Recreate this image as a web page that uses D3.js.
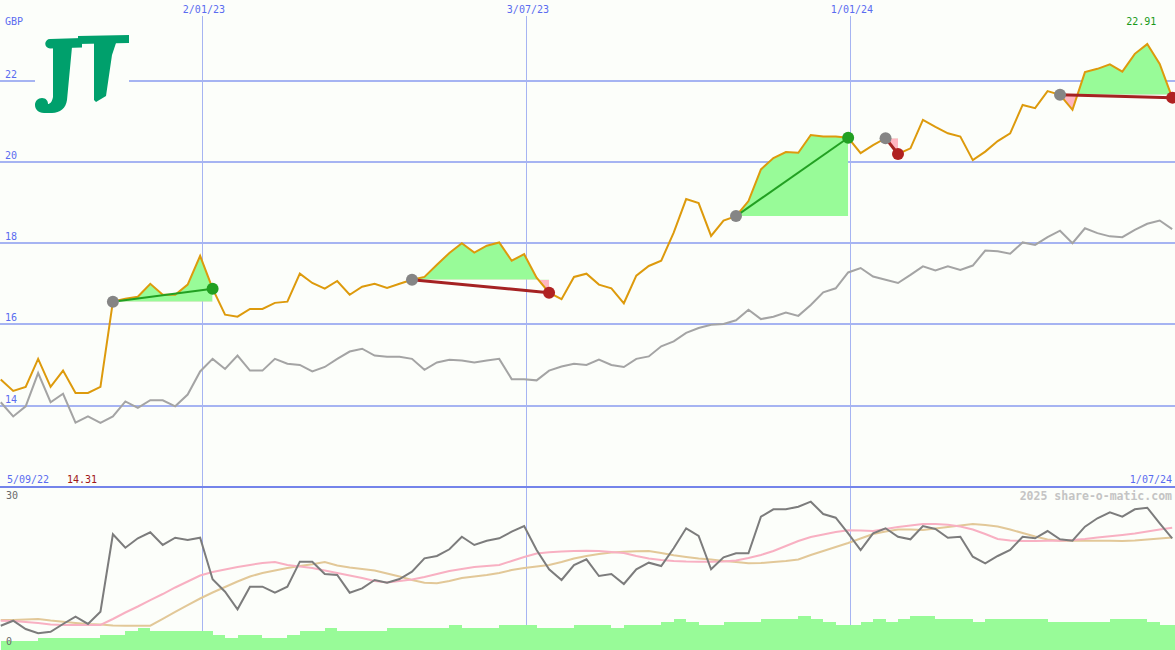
<!DOCTYPE html>
<html><head><meta charset="utf-8">
<script src="https://cdn.jsdelivr.net/npm/d3@7"></script>
<style>body{margin:0;background:#fcfefa}svg{display:block}</style>
</head><body>
<script>
// ---------- data ----------
const startDate = new Date(2022, 8, 11);          // first weekly observation
const weekCount = 95;
const dates = d3.range(weekCount).map(i => d3.timeDay.offset(startDate, 7 * i));

const price = [14.64,14.36,14.46,15.15,14.46,14.86,14.31,14.31,14.46,16.56,
  16.63,16.68,17.00,16.73,16.73,16.98,17.69,16.88,16.24,16.19,
  16.38,16.38,16.53,16.56,17.25,17.02,16.88,17.07,16.73,16.93,
  17.00,16.90,17.00,17.10,17.17,17.47,17.76,18.00,17.77,17.94,
  18.02,17.57,17.73,17.15,16.78,16.62,17.17,17.25,16.98,16.89,
  16.52,17.20,17.44,17.57,18.26,19.09,18.99,18.18,18.56,18.67,
  19.04,19.82,20.10,20.25,20.23,20.67,20.63,20.63,20.60,20.22,
  20.42,20.59,20.20,20.34,21.04,20.87,20.71,20.63,20.05,20.26,
  20.52,20.71,21.41,21.33,21.75,21.66,21.29,22.22,22.30,22.41,
  22.23,22.67,22.91,22.42,21.59];

const relative = [14.08,13.73,13.98,14.80,14.08,14.29,13.58,13.73,13.57,13.73,
  14.10,13.94,14.13,14.13,13.98,14.27,14.84,15.15,14.90,15.23,
  14.86,14.86,15.15,15.03,15.00,14.84,14.95,15.15,15.33,15.40,
  15.23,15.20,15.20,15.15,14.88,15.06,15.13,15.11,15.06,15.11,
  15.15,14.65,14.65,14.62,14.86,14.96,15.03,15.00,15.13,15.00,
  14.95,15.15,15.21,15.46,15.58,15.79,15.91,15.99,16.01,16.10,
  16.36,16.13,16.19,16.29,16.21,16.48,16.79,16.89,17.28,17.39,
  17.18,17.10,17.02,17.22,17.43,17.33,17.43,17.34,17.45,17.82,
  17.80,17.74,18.02,17.96,18.15,18.31,18.00,18.37,18.25,18.17,
  18.15,18.33,18.48,18.56,18.35];

const indicator = [4.23,5.18,3.61,2.79,3.09,4.56,5.94,4.56,6.89,21.59,
  19.04,20.83,21.97,19.56,20.94,20.51,20.94,13.04,10.69,7.35,
  11.64,11.64,10.50,11.64,16.39,16.39,14.05,13.86,10.50,11.33,
  12.91,12.40,13.10,14.49,17.03,17.47,18.74,21.13,19.56,20.37,
  20.83,22.08,23.16,18.61,14.94,12.91,15.76,16.84,13.67,14.05,
  12.15,14.94,16.20,15.57,18.93,22.73,21.27,14.94,17.22,17.98,
  17.98,24.93,26.33,26.33,26.83,27.78,25.44,24.74,21.78,18.61,
  21.78,22.73,21.13,20.64,23.16,22.59,20.94,21.13,17.33,16.08,
  17.47,18.61,21.13,20.83,22.21,20.64,20.37,23.03,24.63,25.76,
  24.93,26.33,26.64,23.68,20.83];

const maShort = [5.18,5.13,4.94,4.75,4.46,4.37,4.37,4.37,4.37,5.51,
  6.74,7.88,9.11,10.25,11.49,12.63,13.77,14.43,14.90,15.38,
  15.76,16.14,16.33,15.76,15.47,15.19,14.71,14.24,13.77,13.29,
  12.72,12.44,12.72,13.01,13.48,14.05,14.62,15.00,15.38,15.57,
  15.76,16.52,17.28,17.94,18.17,18.32,18.42,18.47,18.42,18.23,
  18.04,17.47,16.99,16.71,16.52,16.42,16.38,16.38,16.42,16.61,
  17.09,17.66,18.42,19.37,20.32,21.07,21.55,22.02,22.35,22.31,
  22.21,22.59,22.97,23.26,23.54,23.54,23.41,23.07,22.50,21.64,
  20.69,20.41,20.32,20.32,20.35,20.37,20.50,20.69,20.98,21.21,
  21.45,21.74,22.12,22.50,22.82];

const maLong = [5.32,5.32,5.41,5.51,5.22,4.99,4.75,4.56,4.46,4.27,
  4.23,4.23,4.23,5.51,6.84,8.16,9.40,10.54,11.58,12.63,
  13.58,14.24,14.71,15.19,15.57,15.89,16.33,15.66,15.28,15.00,
  14.71,14.14,13.58,12.91,12.40,12.28,12.72,13.29,13.58,13.86,
  14.24,14.81,15.19,15.47,15.76,16.33,16.99,17.47,17.85,18.13,
  18.28,18.36,18.42,18.04,17.60,17.28,16.99,16.80,16.52,16.33,
  16.08,16.14,16.33,16.52,16.80,17.66,18.42,19.18,19.94,20.79,
  21.64,22.12,22.50,22.50,22.40,22.69,22.97,23.26,23.54,23.35,
  23.07,22.50,21.83,21.17,20.60,20.37,20.37,20.37,20.37,20.35,
  20.32,20.41,20.60,20.79,20.98];

const volume = [9,9,9,12,12,12,12,12,15,15,
  19,22,19,19,19,19,19,15,12,15,
  15,12,12,15,19,19,22,19,19,19,
  19,22,22,22,22,22,25,22,22,22,
  25,25,25,22,22,22,25,25,25,22,
  25,25,25,28,31,28,25,25,28,28,
  28,31,31,31,34,31,28,25,25,28,
  31,28,31,34,34,31,31,31,28,31,
  31,31,31,31,28,28,28,28,28,31,
  31,31,28,25,25];

const tradeEntry = [9, 33, 59, 71, 85];
const tradeExit  = [17, 44, 68, 72, 94];

const dateTicks = [new Date(2023,0,2), new Date(2023,6,3), new Date(2024,0,1)];
const priceTicks = [14, 16, 18, 20, 22];
const lowerTicks = [0, 30];
const firstDateLabel = "5/09/22";
const lastDateLabel = "1/07/24";
const currency = "GBP";
const watermark = "2025 share-o-matic.com";

// ---------- drawing ----------
const W = 1175, H = 650;
const BG = "#fcfefa";
const svg = d3.select("body").append("svg").attr("width", W).attr("height", H);
svg.append("rect").attr("width", W).attr("height", H).attr("fill", BG);

const x = d3.scaleTime().domain([new Date(2022,8,10,14), new Date(2024,6,1,14)]).range([0, W]);
const y = d3.scaleLinear().domain([14, 22]).range([405.5, 81]);
const yl = d3.scaleLinear().domain([0, 30]).range([648, 490]);
const yv = d3.scaleLinear().domain([0, 100]).range([650, 550]);

const gridCol = "#a6b4f2", labelCol = "#5a6cf0";
const mono = "'DejaVu Sans Mono', monospace";
const fmt = d3.timeFormat("%-d/%m/%y");

// vertical grid
svg.append("g").selectAll("line").data(dateTicks).join("line")
  .attr("x1", d => Math.round(x(d)) + 0.5).attr("x2", d => Math.round(x(d)) + 0.5)
  .attr("y1", 16).attr("y2", H).attr("stroke", gridCol).attr("stroke-width", 1);
svg.append("g").selectAll("text").data(dateTicks).join("text")
  .attr("x", d => x(d) + 2).attr("y", 13).attr("text-anchor", "middle")
  .attr("font-family", mono).attr("font-size", 10).attr("fill", labelCol).text(d => fmt(d));

// horizontal grid
svg.append("g").selectAll("line").data(priceTicks).join("line")
  .attr("x1", 0).attr("x2", W).attr("y1", d => Math.round(y(d))).attr("y2", d => Math.round(y(d)))
  .attr("stroke", gridCol).attr("stroke-width", 2);
svg.append("g").selectAll("text").data(priceTicks).join("text")
  .attr("x", 5).attr("y", d => Math.round(y(d)) - 3)
  .attr("font-family", mono).attr("font-size", 10).attr("fill", labelCol).text(d => d);
svg.append("text").attr("x", 5).attr("y", 25).attr("font-family", mono).attr("font-size", 10)
  .attr("fill", labelCol).text(currency);

// logo
const logo = svg.append("g");
logo.append("rect").attr("x", 35).attr("y", 31).attr("width", 94).attr("height", 86).attr("fill", BG);
const logoCol = "#00a06c";
logo.append("path").attr("fill", logoCol)
  .attr("d", "M50,39 L82,38 L82,47.5 L50,48.5 A4.75,4.75 0 0 1 50,39 Z");
logo.append("path").attr("fill", logoCol)
  .attr("d", "M78,36 L129,35 L129,43 L78,44 Z");
logo.append("path").attr("fill", logoCol)
  .attr("d", "M53,47 L72,47 L67,100 C66,108 60,113 52,113 L44,113 C38,113 35,109 35,105 C35,101 38,98 42,98 C46,98 48,101 48,104 C50,104 52,102 53,97 Z");
logo.append("path").attr("fill", logoCol)
  .attr("d", "M94,43 L116,43 L112,55 L106,96 L96,102 L94,100 Z");

// trade fills
const defs = svg.append("defs");
const fills = svg.append("g");
tradeEntry.forEach((e, i) => {
  const xe = tradeExit[i];
  const xs0 = x(dates[e]), xs1 = x(dates[xe]);
  const lvl = y(price[e]);
  const idx = d3.range(e, xe + 1);
  defs.append("clipPath").attr("id", "up" + i).append("rect")
    .attr("x", xs0).attr("y", 0).attr("width", xs1 - xs0).attr("height", lvl);
  defs.append("clipPath").attr("id", "dn" + i).append("rect")
    .attr("x", xs0).attr("y", lvl).attr("width", xs1 - xs0).attr("height", 487 - lvl);
  const area = d3.area().x(k => x(dates[k])).y0(lvl).y1(k => y(price[k]));
  fills.append("path").datum(idx).attr("d", area).attr("fill", "#98fb98").attr("clip-path", `url(#up${i})`);
  fills.append("path").datum(idx).attr("d", area).attr("fill", "#ffb6c1").attr("clip-path", `url(#dn${i})`);
});

const idxAll = d3.range(weekCount);
// relative line
svg.append("path").datum(idxAll)
  .attr("d", d3.line().x(k => x(dates[k])).y(k => y(relative[k])))
  .attr("fill", "none").attr("stroke", "#a4a4a4").attr("stroke-width", 2);
// price line
svg.append("path").datum(idxAll)
  .attr("d", d3.line().x(k => x(dates[k])).y(k => y(price[k])))
  .attr("fill", "none").attr("stroke", "#dd9a0c").attr("stroke-width", 2);

// trade lines and markers
tradeEntry.forEach((e, i) => {
  const xe = tradeExit[i];
  const win = price[xe] > price[e];
  svg.append("line").attr("x1", x(dates[e])).attr("y1", y(price[e]))
    .attr("x2", x(dates[xe])).attr("y2", y(price[xe]))
    .attr("stroke", win ? "#22a022" : "#a52222").attr("stroke-width", win ? 2 : 3);
  svg.append("circle").attr("cx", x(dates[e])).attr("cy", y(price[e])).attr("r", 6).attr("fill", "#858585");
  svg.append("circle").attr("cx", x(dates[xe])).attr("cy", y(price[xe])).attr("r", 6)
    .attr("fill", win ? "#22a022" : "#b02222");
});

// max label
const maxI = d3.maxIndex(price), minI = d3.minIndex(price);
svg.append("text").attr("x", x(dates[maxI]) - 6).attr("y", 25).attr("text-anchor", "middle")
  .attr("font-family", mono).attr("font-size", 10).attr("fill", "#1a9a1a").text(price[maxI].toFixed(2));

// separator
svg.append("line").attr("x1", 0).attr("x2", W).attr("y1", 487).attr("y2", 487)
  .attr("stroke", "#7484ea").attr("stroke-width", 2);
svg.append("text").attr("x", 7).attr("y", 483).attr("font-family", mono).attr("font-size", 10)
  .attr("fill", labelCol).text(firstDateLabel);
svg.append("text").attr("x", 67).attr("y", 483).attr("font-family", mono).attr("font-size", 10)
  .attr("fill", "#a01818").text(price[minI].toFixed(2));
svg.append("text").attr("x", 1172).attr("y", 483).attr("text-anchor", "end").attr("font-family", mono)
  .attr("font-size", 10).attr("fill", labelCol).text(lastDateLabel);

// volume bars
svg.append("g").attr("shape-rendering", "crispEdges").selectAll("rect").data(idxAll).join("rect")
  .attr("x", k => Math.round(x(dates[k])))
  .attr("width", k => Math.round(x(d3.timeDay.offset(dates[k], 7))) - Math.round(x(dates[k])))
  .attr("y", k => Math.round(yv(volume[k])))
  .attr("height", k => H - Math.round(yv(volume[k])))
  .attr("fill", "#98fb98");

// lower panel lines
const lowerLine = arr => d3.line().x(k => x(dates[k])).y(k => yl(arr[k]));
svg.append("path").datum(idxAll).attr("d", lowerLine(maLong))
  .attr("fill", "none").attr("stroke", "#e2c898").attr("stroke-width", 2);
svg.append("path").datum(idxAll).attr("d", lowerLine(maShort))
  .attr("fill", "none").attr("stroke", "#f8b0c2").attr("stroke-width", 2);
svg.append("path").datum(idxAll).attr("d", lowerLine(indicator))
  .attr("fill", "none").attr("stroke", "#7c7c7c").attr("stroke-width", 2);

svg.append("g").selectAll("text").data(lowerTicks).join("text")
  .attr("x", 6).attr("y", d => d === 0 ? 645 : 499)
  .attr("font-family", mono).attr("font-size", 10).attr("fill", "#6a6a6a").text(d => d);

svg.append("text").attr("x", 1172).attr("y", 500).attr("text-anchor", "end")
  .attr("font-family", mono).attr("font-size", 11.5).attr("font-weight", "bold")
  .attr("fill", "#c4c4c4").text(watermark);
</script>
</body></html>
